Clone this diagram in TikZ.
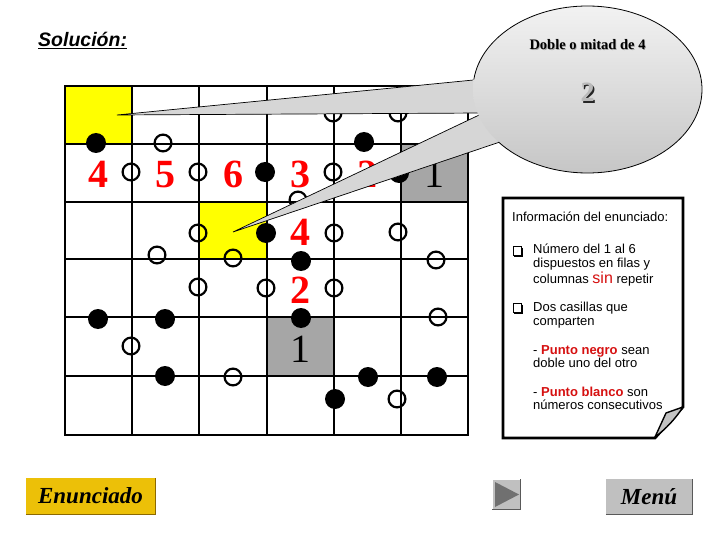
\documentclass[tikz,border=0pt]{standalone}
\usepackage{fontspec}
\setmainfont{Liberation Serif}
\setsansfont{Liberation Sans}
\definecolor{cellyellow}{RGB}{255,255,0}
\definecolor{cellgray}{RGB}{166,166,166}
\definecolor{digitred}{RGB}{255,0,0}
\definecolor{boxred}{RGB}{214,16,16}
\definecolor{enun}{RGB}{236,192,8}
\definecolor{enundark}{RGB}{140,105,0}
\definecolor{btngray}{RGB}{192,192,192}
\definecolor{btndark}{RGB}{112,112,112}
\definecolor{wedgegray}{RGB}{214,214,214}
\definecolor{bubtop}{RGB}{242,242,242}
\definecolor{bubbot}{RGB}{198,198,198}
\definecolor{flapgray}{RGB}{195,195,195}
\begin{document}
\begin{tikzpicture}[x=1pt,y=-1pt,
  gridline/.style={line width=2.2pt},
  bdot/.style={circle,fill=black,inner sep=0pt,minimum size=20pt},
  wdot/.style={circle,draw=black,line width=2.2pt,inner sep=0pt,minimum size=16.8pt},
  reddigit/.style={font=\bfseries\fontsize{40}{40}\selectfont,text=digitred,anchor=base,inner sep=0pt},
  blackdigit/.style={font=\fontsize{40}{40}\selectfont,text=black,anchor=base,inner sep=0pt},
  infotext/.style={font=\sffamily\fontsize{13}{13}\selectfont,anchor=base west,inner sep=0pt},
  wedge/.style={fill=wedgegray,draw=black,line width=0.7pt},
  btnfont/.style={font=\bfseries\itshape\fontsize{23}{23}\selectfont}
]
\useasboundingbox (0,0) rectangle (720,540);
\fill[white] (0,0) rectangle (720,540);

% title
\node[font=\sffamily\bfseries\itshape\fontsize{19.5}{19.5}\selectfont,anchor=base west,inner sep=0pt] (title) at (38,47) {\underline{Solución:}};

% coloured cells
\fill[cellyellow] (65,86) rectangle (132,144);
\fill[cellyellow] (199,202) rectangle (267,259);
\fill[cellgray] (401,144) rectangle (468,202);
\fill[cellgray] (267,317) rectangle (334,376);

% grid
\foreach \x in {132,199,267,334,401} \draw[gridline] (\x,86) -- (\x,435);
\foreach \y in {144,202,259,317,376} \draw[gridline] (65,\y) -- (468,\y);
\draw[gridline] (65,86) rectangle (468,435);

% digits
\node[reddigit] (r1c0) at (98.5,188) {4};
\node[reddigit] (r1c1) at (165.5,188) {5};
\node[reddigit] (r1c2) at (233,188) {6};
\node[reddigit] (r1c3) at (300.5,188) {3};
\node[reddigit] (r1c4) at (367.5,188) {2};
\node[blackdigit] (r1c5) at (434.5,188) {1};
\node[reddigit] (r2c3) at (300.5,245.5) {4};
\node[reddigit] (r3c3) at (300.5,303) {2};
\node[blackdigit] (r4c3) at (300.5,362) {1};

% black dots
\foreach \p [count=\i] in {(96,143),(265,172),(364,142),(399,173),(266,233),(301,261),(301,318),(98,319),(165,319),(165,376),(368,377),(437,377),(335,399)}
  \node[bdot] (b\i) at \p {};
% white dots
\foreach \p [count=\i] in {(163,143),(131,172),(198,172),(333,113),(398,113),(333,172),(298,200),(198,233),(157,255),(233,258),(198,287),(266,288),(334,233),(398,232),(436,260),(334,288),(438,317),(131,346),(233,377),(397,399)}
  \node[wdot] (w\i) at \p {};

% callout
\filldraw[wedge] (117,115) -- (500,77.4) -- (500,112.9) -- cycle;
\filldraw[wedge] (233,232) -- (500,105.1) -- (510,138.6) -- cycle;
\shade[top color=bubtop,bottom color=bubbot] (587.5,89.5) ellipse [x radius=114.5pt,y radius=83.5pt];
\draw[line width=0.8pt] (587.5,89.5) ++(219:114.5pt and 83.5pt) arc[start angle=219,end angle=533,x radius=114.5pt,y radius=83.5pt];
\node[font=\bfseries\fontsize{14.5}{14.5}\selectfont,text=gray!70,inner sep=0pt] at (588.3,45.8) {Doble o mitad de 4};
\node[font=\bfseries\fontsize{14.5}{14.5}\selectfont,inner sep=0pt] (bubtext) at (587.5,45) {Doble o mitad de 4};
\node[font=\bfseries\fontsize{28}{28}\selectfont,text=black!85,anchor=base,inner sep=0pt] at (589,103.5) {2};
\node[font=\bfseries\fontsize{28}{28}\selectfont,text=gray!55,anchor=base,inner sep=0pt] (bubnum) at (587.5,102) {2};

% info box
\draw[line width=2.7pt,line join=miter,fill=white] (503,198) -- (683,198) -- (683,407) -- (655,438) -- (503,438) -- cycle;
\filldraw[fill=flapgray,line width=1.4pt,line join=round] (683,407) -- (666,413) -- (655,437) .. controls (666,429) and (676,418) .. cycle;
\foreach \yy in {251,308} {
  \draw[line width=0.9pt] (513,\yy-4.5) rectangle (521.5,\yy+4);
  \draw[line width=1.6pt] (522.5,\yy-3.5) -- (522.5,\yy+5) -- (514,\yy+5);
}
\node[infotext] (i0) at (512,221.5) {Información del enunciado:};
\node[infotext] (i1) at (533,254) {Número del 1 al 6};
\node[infotext] (i2) at (533,267) {dispuestos en filas y};
\node[infotext] (i3) at (533,283.5) {columnas {\color{boxred}\fontsize{16}{16}\selectfont sin} repetir};
\node[infotext] (i4) at (533,311.5) {Dos casillas que};
\node[infotext] (i5) at (533,325) {comparten};
\node[infotext] (i6) at (533,354) {- {\color{boxred}\bfseries Punto negro} sean};
\node[infotext] (i7) at (533,367.5) {doble uno del otro};
\node[infotext] (i8) at (533,396) {- {\color{boxred}\bfseries Punto blanco} son};
\node[infotext] (i9) at (533,409.5) {números consecutivos};

% buttons
\node[fill=enun,minimum width=129pt,minimum height=36pt,inner sep=0pt,btnfont] (enun) at (90.5,496) {Enunciado};
\draw[enundark,line width=1pt] (enun.south west) -- (enun.south east) -- (enun.north east);
\node[fill=btngray,minimum width=28pt,minimum height=30pt,inner sep=0pt] (play) at (506.5,494.5) {};
\draw[gray!70!black,line width=1pt] (play.south west) -- (play.south east) -- (play.north east);
\fill[btndark] (495,482) -- (495,507) -- (519,494.5) -- cycle;
\node[fill=btngray,minimum width=86pt,minimum height=35pt,inner sep=0pt,btnfont] (menu) at (649,496.5) {Menú};
\draw[gray!70!black,line width=1pt] (menu.south west) -- (menu.south east) -- (menu.north east);
\end{tikzpicture}
\end{document}
